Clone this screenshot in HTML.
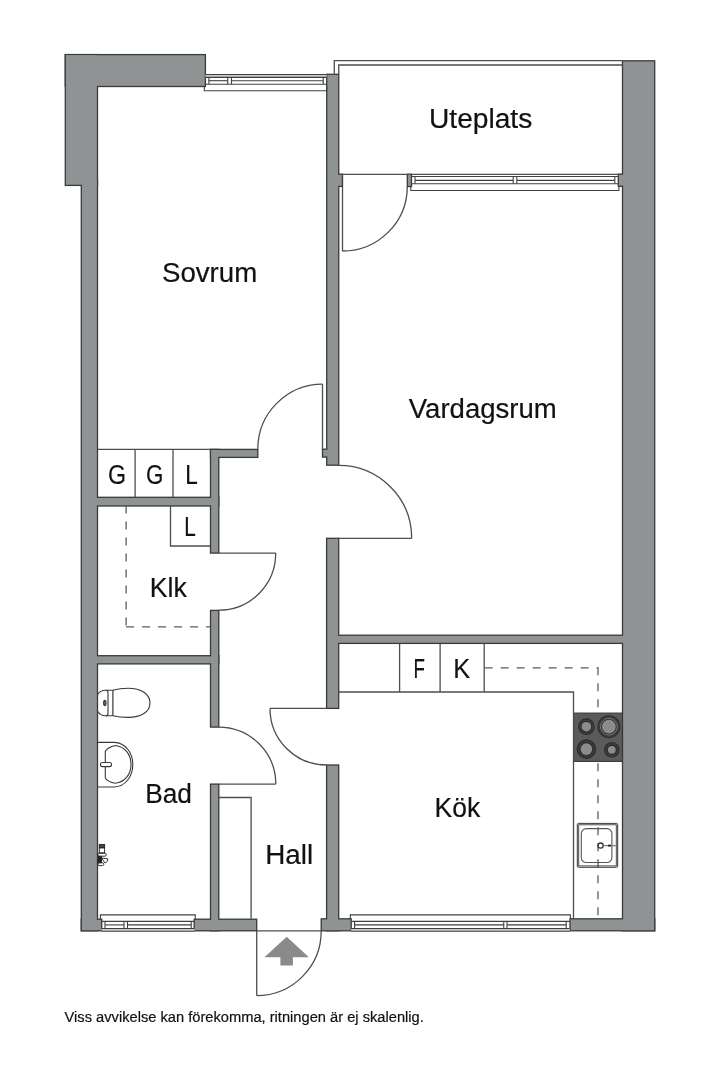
<!DOCTYPE html>
<html><head><meta charset="utf-8">
<style>
html,body{margin:0;padding:0;background:#fff;width:720px;height:1080px;overflow:hidden}
svg{display:block;will-change:transform}
text{font-family:"Liberation Sans",sans-serif;fill:#111;stroke:#111;stroke-width:0.2px}
</style></head>
<body>
<svg width="720" height="1080" viewBox="0 0 720 1080">
<rect x="0" y="0" width="720" height="1080" fill="#fff"/>
<g fill="#3a3a3a">
<rect x="64.65" y="53.95" width="141.40" height="33.20"/>
<rect x="64.65" y="53.95" width="33.50" height="132.10"/>
<rect x="80.65" y="179.35" width="17.50" height="752.10"/>
<rect x="80.65" y="918.55" width="21.70" height="12.90"/>
<rect x="193.55" y="918.55" width="63.80" height="12.90"/>
<rect x="209.85" y="448.75" width="9.60" height="105.00"/>
<rect x="209.85" y="609.75" width="9.60" height="118.00"/>
<rect x="209.85" y="783.45" width="9.60" height="148.00"/>
<rect x="209.85" y="448.75" width="48.60" height="9.30"/>
<rect x="89.35" y="496.65" width="130.10" height="10.00"/>
<rect x="89.35" y="655.05" width="130.10" height="9.50"/>
<rect x="326.05" y="73.65" width="13.35" height="392.20"/>
<rect x="333.35" y="173.55" width="9.80" height="13.50"/>
<rect x="321.85" y="448.55" width="9.80" height="9.20"/>
<rect x="325.95" y="537.65" width="13.40" height="171.40"/>
<rect x="325.95" y="764.35" width="13.40" height="167.10"/>
<rect x="329.35" y="634.55" width="301.30" height="9.50"/>
<rect x="621.85" y="60.15" width="33.50" height="871.30"/>
<rect x="617.65" y="173.55" width="10.00" height="13.40"/>
<rect x="406.65" y="173.65" width="5.50" height="13.50"/>
<rect x="320.55" y="918.15" width="31.30" height="13.30"/>
<rect x="569.35" y="918.15" width="86.00" height="13.30"/>
</g>
<g fill="#8f9393">
<rect x="65.95" y="55.25" width="138.80" height="30.60"/>
<rect x="65.95" y="55.25" width="30.90" height="129.50"/>
<rect x="81.95" y="180.65" width="14.90" height="749.50"/>
<rect x="81.95" y="919.85" width="19.10" height="10.30"/>
<rect x="194.85" y="919.85" width="61.20" height="10.30"/>
<rect x="211.15" y="450.05" width="7.00" height="102.40"/>
<rect x="211.15" y="611.05" width="7.00" height="115.40"/>
<rect x="211.15" y="784.75" width="7.00" height="145.40"/>
<rect x="211.15" y="450.05" width="46.00" height="6.70"/>
<rect x="90.65" y="497.95" width="127.50" height="7.40"/>
<rect x="90.65" y="656.35" width="127.50" height="6.90"/>
<rect x="327.35" y="74.95" width="10.75" height="389.60"/>
<rect x="334.65" y="174.85" width="7.20" height="10.90"/>
<rect x="323.15" y="449.85" width="7.20" height="6.60"/>
<rect x="327.25" y="538.95" width="10.80" height="168.80"/>
<rect x="327.25" y="765.65" width="10.80" height="164.50"/>
<rect x="330.65" y="635.85" width="298.70" height="6.90"/>
<rect x="623.15" y="61.45" width="30.90" height="868.70"/>
<rect x="618.95" y="174.85" width="7.40" height="10.80"/>
<rect x="407.95" y="174.95" width="2.90" height="10.90"/>
<rect x="321.85" y="919.45" width="28.70" height="10.70"/>
<rect x="570.65" y="919.45" width="83.40" height="10.70"/>
</g>
<g fill="none" stroke="#404040" stroke-width="1.1">
<rect x="205.40" y="74.45" width="121.30" height="2.95" fill="#cacaca" stroke="none"/>
<line x1="205.40" y1="74.45" x2="326.70" y2="74.45"/>
<line x1="205.40" y1="77.40" x2="326.70" y2="77.40"/>
<line x1="205.40" y1="84.25" x2="326.70" y2="84.25"/>
<line x1="208.90" y1="77.40" x2="208.90" y2="84.25"/>
<line x1="323.20" y1="77.40" x2="323.20" y2="84.25"/>
<line x1="208.90" y1="80.70" x2="227.75" y2="80.70"/>
<line x1="231.50" y1="80.70" x2="323.20" y2="80.70"/>
<line x1="227.75" y1="77.40" x2="227.75" y2="84.25"/>
<line x1="231.50" y1="77.40" x2="231.50" y2="84.25"/>
<polyline points="204.30,86.50 204.30,90.70 326.70,90.70 326.70,86.50"/>
<line x1="411.50" y1="174.45" x2="618.30" y2="174.45"/>
<line x1="411.50" y1="176.50" x2="618.30" y2="176.50"/>
<line x1="411.50" y1="183.80" x2="618.30" y2="183.80"/>
<line x1="415.00" y1="176.50" x2="415.00" y2="183.80"/>
<line x1="614.80" y1="176.50" x2="614.80" y2="183.80"/>
<line x1="415.00" y1="180.40" x2="513.20" y2="180.40"/>
<line x1="516.80" y1="180.40" x2="614.80" y2="180.40"/>
<line x1="513.20" y1="176.50" x2="513.20" y2="183.80"/>
<line x1="516.80" y1="176.50" x2="516.80" y2="183.80"/>
<polyline points="410.80,186.40 410.80,190.50 618.90,190.50 618.90,186.40"/>
<rect x="101.50" y="928.50" width="93.20" height="2.80" fill="#cacaca" stroke="none"/>
<line x1="101.50" y1="931.30" x2="194.70" y2="931.30"/>
<line x1="101.50" y1="928.50" x2="194.70" y2="928.50"/>
<line x1="101.50" y1="921.40" x2="194.70" y2="921.40"/>
<line x1="105.00" y1="928.50" x2="105.00" y2="921.40"/>
<line x1="191.20" y1="928.50" x2="191.20" y2="921.40"/>
<line x1="105.00" y1="924.90" x2="124.00" y2="924.90"/>
<line x1="127.50" y1="924.90" x2="191.20" y2="924.90"/>
<line x1="124.00" y1="928.50" x2="124.00" y2="921.40"/>
<line x1="127.50" y1="928.50" x2="127.50" y2="921.40"/>
<polyline points="100.40,918.90 100.40,914.90 195.30,914.90 195.30,918.90"/>
<rect x="351.10" y="928.50" width="218.60" height="2.80" fill="#cacaca" stroke="none"/>
<line x1="351.10" y1="931.30" x2="569.70" y2="931.30"/>
<line x1="351.10" y1="928.50" x2="569.70" y2="928.50"/>
<line x1="351.10" y1="921.40" x2="569.70" y2="921.40"/>
<line x1="354.60" y1="928.50" x2="354.60" y2="921.40"/>
<line x1="566.20" y1="928.50" x2="566.20" y2="921.40"/>
<line x1="354.60" y1="924.90" x2="503.75" y2="924.90"/>
<line x1="507.00" y1="924.90" x2="566.20" y2="924.90"/>
<line x1="503.75" y1="928.50" x2="503.75" y2="921.40"/>
<line x1="507.00" y1="928.50" x2="507.00" y2="921.40"/>
<polyline points="350.30,918.80 350.30,914.90 570.40,914.90 570.40,918.80"/>
</g>
<g fill="none" stroke="#5c5c5c" stroke-width="1.3" stroke-dasharray="8,8">
<line x1="126.1" y1="505.6" x2="126.1" y2="626.9"/>
<line x1="126.1" y1="626.9" x2="210.5" y2="626.9"/>
<line x1="484.6" y1="667.8" x2="598" y2="667.8"/>
<line x1="598" y1="667.3" x2="598" y2="918.8"/>
</g>

<!-- toilet -->
<g fill="none" stroke="#383838" stroke-width="1.1">
<path d="M97.5,694.7 C99.5,691.5 102.5,690.3 105.8,690.3 L112.9,690.2 C117,689 122,688.3 128.3,688.3 C141,688.3 150,694 150,703 C150,712 141,717.4 128.3,717.4 C122,717.4 117,716.8 112.9,715.8 L105.8,715.8 C102.5,715.8 99.5,714.5 97.5,711.3"/>
<path d="M105.8,690.3 Q108,690.3 108,693 L108,713 Q108,715.8 105.8,715.8"/>
<path d="M112.9,690.2 L112.9,715.8" stroke-width="1.2"/>
<ellipse cx="104.8" cy="703" rx="1.2" ry="2.6" fill="#666"/>
<!-- bath sink -->
<path d="M97.5,742.4 L114.4,742.4 C125,743 132.8,752 132.8,764.6 C132.8,777 125,786.5 114.4,787 L97.5,787"/>
<path d="M105.3,751.1 Q108,747.2 115.3,745.5 C124.5,746.5 131,754 131,764.5 C131,775 124.5,782.3 115.3,783.3 Q108,782 105.3,778 Z"/>
<rect x="100.4" y="762.5" width="11.2" height="4.1" rx="2" fill="#fff"/>
</g>
<!-- mixer -->
<g fill="none" stroke="#222" stroke-width="0.9">
<rect x="99.3" y="844.4" width="5.3" height="3.4" fill="#444"/>
<rect x="99.3" y="847.8" width="5.3" height="5"/>
<rect x="97.8" y="853.3" width="8.5" height="2.9" rx="1.4"/>
<path d="M97.8,856.3 L101.5,856.3 L101.5,862.7 L97.8,862.7" fill="#222"/>
<path d="M101.5,858 L107.8,858.8 Q108.5,861.5 105,863 Z"/>
<rect x="97.8" y="862.8" width="6" height="2.8" rx="1.3"/>
</g>
<!-- stove -->
<rect x="573.6" y="713.1" width="48.8" height="48.3" fill="#5b5b5b" stroke="#383838" stroke-width="1.1"/>
<g>
<circle cx="586.4" cy="726.7" r="8.4" fill="#2e2e2e"/>
<circle cx="586.4" cy="726.7" r="6.6" fill="none" stroke="#4a4a4a" stroke-width="0.8"/>
<circle cx="586.4" cy="726.7" r="4.8" fill="#8c8c8c"/>
<circle cx="608.9" cy="726.7" r="11.5" fill="#2e2e2e"/>
<circle cx="608.9" cy="726.7" r="9.9" fill="none" stroke="#4a4a4a" stroke-width="0.8"/>
<circle cx="608.9" cy="726.7" r="8.4" fill="none" stroke="#8a8a8a" stroke-width="0.9"/>
<circle cx="608.9" cy="726.7" r="6.9" fill="#8c8c8c"/>
<circle cx="586.4" cy="749.1" r="9.8" fill="#2e2e2e"/>
<circle cx="586.4" cy="749.1" r="7.6" fill="none" stroke="#4a4a4a" stroke-width="0.8"/>
<circle cx="586.4" cy="749.1" r="5.8" fill="#8c8c8c"/>
<circle cx="611.8" cy="749.8" r="7.8" fill="#2e2e2e"/>
<circle cx="611.8" cy="749.8" r="6" fill="none" stroke="#4a4a4a" stroke-width="0.8"/>
<circle cx="611.8" cy="749.8" r="3.9" fill="#8c8c8c"/>
</g>
<!-- kitchen sink -->
<g fill="none" stroke="#383838" stroke-width="1.1">
<rect x="577.3" y="823.4" width="40.4" height="43.9" rx="1.2" stroke-width="1"/>
<rect x="578.7" y="824.8" width="37.6" height="41.1" stroke-width="0.9"/>
<rect x="581.3" y="828.6" width="30.6" height="33.9" rx="5" stroke="#555"/>
<circle cx="600.6" cy="845.6" r="2.6" stroke-width="1.3"/>
<line x1="603.2" y1="845.6" x2="615.8" y2="845.6" stroke-width="1.2" stroke="#777"/><rect x="608" y="844.7" width="3" height="1.8" fill="#222" stroke="none"/>
</g>

<g fill="none" stroke="#4e4e4e" stroke-width="1.3">
<!-- Uteplats -->
<polyline points="334.3,74.3 334.3,60.7 622.5,60.7"/>
<polyline points="338.75,74.3 338.75,65 622.5,65"/>
<line x1="338.75" y1="174.3" x2="622.5" y2="174.3"/>
<!-- closets GGL -->
<line x1="97.5" y1="449.4" x2="210.5" y2="449.4"/>
<line x1="135.1" y1="449.4" x2="135.1" y2="497.3"/>
<line x1="173" y1="449.4" x2="173" y2="497.3"/>
<polyline points="170.5,506 170.5,546 210.5,546"/>
<!-- wardrobe -->
<polyline points="218.8,797.5 251.1,797.5 251.1,918.8"/>
<!-- kitchen counter -->
<polyline points="338.7,692 573.5,692 573.5,918.8"/>
<line x1="399.6" y1="643.4" x2="399.6" y2="692"/>
<line x1="440.1" y1="643.4" x2="440.1" y2="692"/>
<line x1="484.2" y1="643.4" x2="484.2" y2="692"/>
<!-- doors -->
<line x1="342.5" y1="186.4" x2="342.5" y2="251"/>
<path d="M342.5,251 A64.7,64.7 0 0 0 407.3,186.4"/>
<line x1="322.5" y1="384.2" x2="322.5" y2="449.2"/>
<path d="M322.5,384.2 A65,65 0 0 0 257.8,449.4"/>
<line x1="338.7" y1="538.3" x2="411.7" y2="538.3"/>
<path d="M411.7,538.3 A73,73 0 0 0 338.7,465.3"/>
<line x1="218.8" y1="553.1" x2="275.7" y2="553.1"/>
<path d="M275.7,553.1 A57,57 0 0 1 218.8,610.2"/>
<line x1="218.8" y1="784.1" x2="275.8" y2="784.1"/>
<path d="M275.8,784.1 A57,57 0 0 0 218.8,727.1"/>
<line x1="326.6" y1="708.4" x2="270" y2="708.4"/>
<path d="M270,708.4 A56.6,56.6 0 0 0 326.6,765"/>
<line x1="256.7" y1="930.8" x2="321.2" y2="930.8"/>
<line x1="256.7" y1="930.8" x2="256.7" y2="995.6"/>
<path d="M256.7,995.6 A64.5,64.5 0 0 0 321.2,930.8"/>
</g>
<polygon points="286.7,936.7 308.9,957.3 292.9,957.3 292.9,965.6 280.4,965.6 280.4,957.3 264.4,957.3" fill="#8a8a8a"/>

<text x="429.00" y="127.50" font-size="28.20" textLength="103.23" lengthAdjust="spacingAndGlyphs">Uteplats</text>
<text x="162.00" y="281.70" font-size="28.20" textLength="95.23" lengthAdjust="spacingAndGlyphs">Sovrum</text>
<text x="408.80" y="418.30" font-size="28.20" textLength="148.01" lengthAdjust="spacingAndGlyphs">Vardagsrum</text>
<text x="108.00" y="484.00" font-size="28.20" textLength="18.03" lengthAdjust="spacingAndGlyphs">G</text>
<text x="146.00" y="484.00" font-size="28.20" textLength="17.37" lengthAdjust="spacingAndGlyphs">G</text>
<text x="185.20" y="484.00" font-size="28.20" textLength="12.49" lengthAdjust="spacingAndGlyphs">L</text>
<text x="184.20" y="536.30" font-size="28.20" textLength="11.53" lengthAdjust="spacingAndGlyphs">L</text>
<text x="149.80" y="596.50" font-size="28.20" textLength="37.02" lengthAdjust="spacingAndGlyphs">Klk</text>
<text x="413.50" y="678.20" font-size="28.20" textLength="11.43" lengthAdjust="spacingAndGlyphs">F</text>
<text x="453.20" y="678.20" font-size="28.20" textLength="16.97" lengthAdjust="spacingAndGlyphs">K</text>
<text x="145.20" y="802.50" font-size="28.20" textLength="46.75" lengthAdjust="spacingAndGlyphs">Bad</text>
<text x="265.20" y="863.75" font-size="28.20" textLength="47.91" lengthAdjust="spacingAndGlyphs">Hall</text>
<text x="434.60" y="816.60" font-size="28.20" textLength="45.63" lengthAdjust="spacingAndGlyphs">Kök</text>
<text x="64.60" y="1021.70" font-size="15.20" textLength="359.20" lengthAdjust="spacingAndGlyphs" fill="#2b2b2b" stroke="#2b2b2b" stroke-width="0.25">Viss avvikelse kan förekomma, ritningen är ej skalenlig.</text>
</svg>
</body></html>
